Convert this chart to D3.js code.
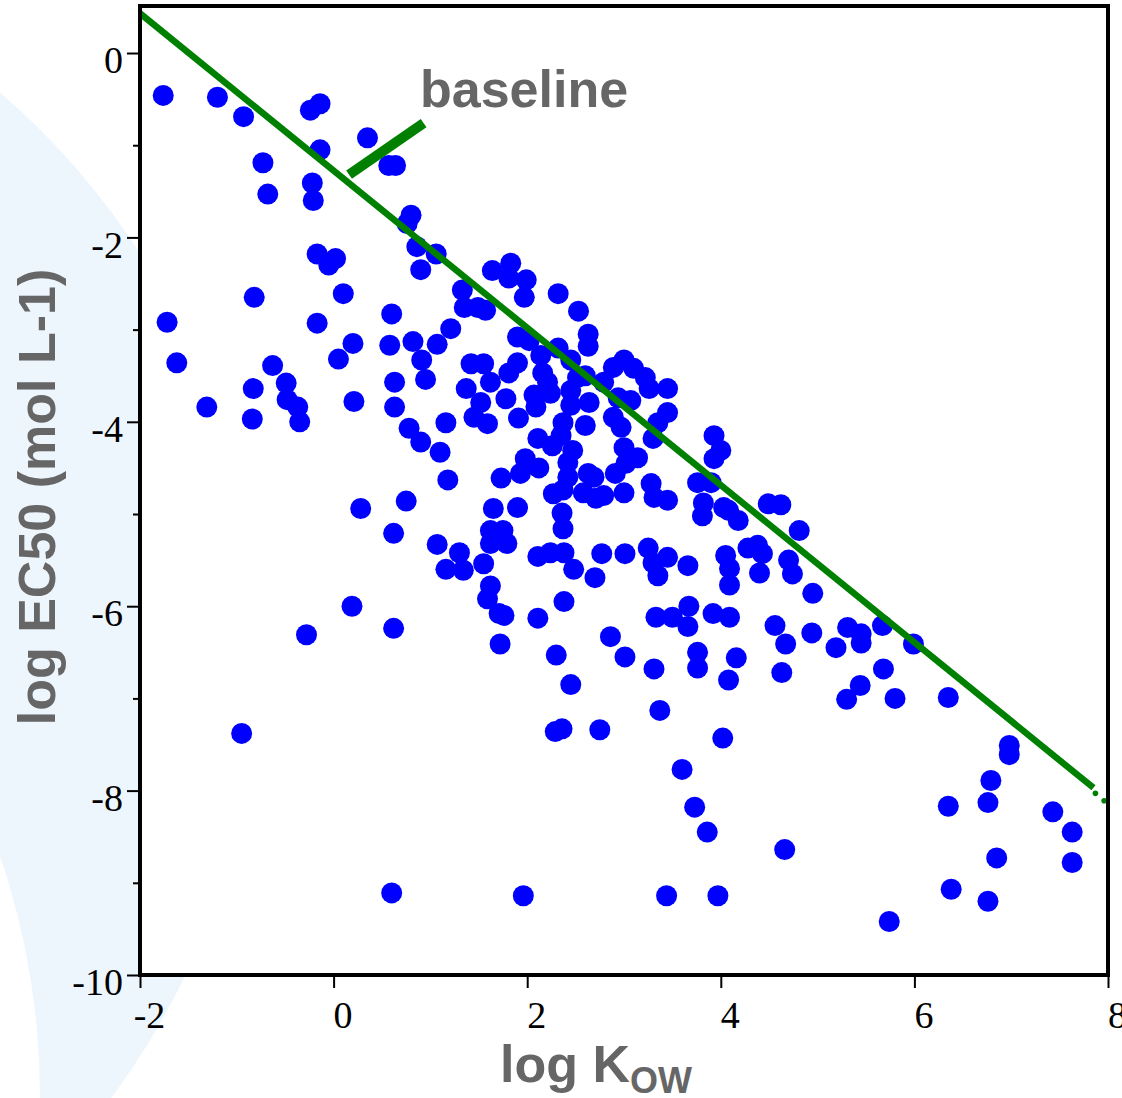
<!DOCTYPE html>
<html lang="en">
<head>
  <meta charset="UTF-8">
  <title>log EC50 vs log Kow</title>
  <script src="https://d3js.org/d3.v7.min.js"></script>
  <style>body{margin:0;background:#fff;}</style>
</head>
<body>
  <svg width="1122" height="1098"></svg>
<script>
// values, point i = (logKow[i], logEC50[i])
var logKow = [
  -1.76,-1.20,-0.93,-0.24,-0.14,-0.14,0.35,0.57,0.64,-0.73,-0.68,-0.22,-0.21,0.80,0.76,0.86,1.06,0.90,-0.17,0.02,-0.05,0.10,-0.82,0.60,-1.72,-0.17,1.33,1.35,1.21,
  -1.62,-1.31,-0.83,-0.84,-0.63,-0.49,-0.48,-0.37,-0.35,0.05,0.20,0.21,0.58,0.82,1.07,0.91,0.95,0.63,0.63,0.78,0.90,1.16,1.10,1.18,1.37,0.28,0.75,0.62,1.07,1.30,1.16,1.34,0.19,-0.28,0.62,
  -0.95,2.45,2.29,2.36,2.75,0.60,1.96,
  1.65,1.90,2.36,2.37,1.62,1.75,1.62,1.79,1.55,2.11,2.24,2.38,2.48,2.70,2.77,3.01,3.25,3.30,3.35,3.45,3.66,1.62,1.59,1.71,1.76,2.38,2.11,1.72,2.86,3.01,2.30,3.31,3.33,3.50,3.67,3.66,3.92,4.09,3.76,3.76,4.16,4.08,4.56,4.67,4.63,3.37,4.02,4.05,4.09,4.09,4.28,4.38,4.43,4.40,4.70,4.74,3.81,4.18,4.08,4.49,4.62,4.81,
  1.64,1.83,1.81,1.99,1.97,2.32,2.53,2.63,2.63,1.49,1.57,1.90,2.02,2.32,2.14,2.45,1.55,1.42,1.90,1.81,2.16,2.21,2.24,2.07,2.09,1.62,1.78,1.52,1.45,1.59,1.91,2.45,2.52,2.60,2.45,2.64,2.60,2.37,2.35,2.11,2.26,2.47,1.98,2.42,2.12,1.93,1.73,2.42,2.37,2.27,
  2.89,3.00,3.10,3.22,3.26,3.45,2.79,2.94,3.07,2.89,2.97,3.45,3.35,3.30,3.00,3.14,3.02,2.63,2.69,2.58,2.71,2.79,2.91,3.00,3.28,3.45,3.31,3.93,4.00,3.93,3.76,3.90,3.82,4.03,
  4.95,4.94,5.31,5.45,5.19,5.45,5.67,5.99,5.68,5.44,5.30,5.80,6.35,
  6.98,6.98,6.79,6.76,6.35,7.43,7.63,7.63,6.85,6.38,6.76,
  3.60,3.73,3.86,3.44,3.97,4.66,5.74
];
var logEC50 = [
  -0.46,-0.48,-0.69,-0.62,-0.55,-1.05,-0.92,-1.22,-1.22,-1.19,-1.53,-1.41,-1.60,-1.76,-1.85,-2.10,-2.18,-2.35,-2.18,-2.23,-2.30,-2.61,-2.65,-2.83,-2.92,-2.93,-2.57,-2.76,-2.99,
  -3.36,-3.84,-3.64,-3.97,-3.39,-3.58,-3.76,-3.84,-4.00,-3.32,-3.15,-3.78,-3.17,-3.13,-3.16,-3.33,-3.54,-3.57,-3.84,-4.07,-4.22,-4.01,-4.33,-4.63,-3.64,-4.94,-4.86,-5.21,-5.33,-5.42,-5.60,-5.61,-6.00,-6.31,-6.24,
  -7.38,-6.85,-7.36,-7.33,-7.34,-9.11,-9.14,
  -4.94,-4.93,-4.99,-5.16,-5.18,-5.18,-5.32,-5.32,-5.54,-5.46,-5.42,-5.42,-5.60,-5.69,-5.43,-5.43,-5.37,-5.53,-5.67,-5.47,-5.56,-5.78,-5.92,-6.08,-6.10,-5.95,-6.13,-6.41,-6.33,-6.55,-6.53,-6.68,-6.12,-6.12,-6.00,-6.22,-6.08,-6.12,-6.50,-6.67,-6.56,-6.80,-6.21,-6.41,-6.72,-7.13,-7.43,-5.45,-5.59,-5.77,-5.37,-5.34,-5.43,-5.64,-5.50,-5.65,-5.02,-5.07,-4.96,-4.89,-4.90,-5.18,
  -2.36,-2.28,-2.44,-2.46,-2.65,-2.61,-2.80,-3.05,-3.18,-2.76,-2.79,-3.08,-3.12,-3.20,-3.28,-3.33,-3.37,-3.37,-3.36,-3.47,-3.47,-3.57,-3.69,-3.71,-3.84,-3.57,-3.75,-3.79,-3.95,-4.02,-3.96,-3.66,-3.52,-3.50,-3.82,-3.79,-4.04,-4.01,-4.15,-4.18,-4.26,-4.31,-4.40,-4.44,-4.50,-4.56,-4.61,-4.60,-4.74,-4.78,
  -3.41,-3.33,-3.42,-3.52,-3.64,-3.64,-3.57,-3.74,-3.77,-3.95,-4.06,-3.90,-4.01,-4.18,-4.28,-4.39,-4.45,-4.56,-4.60,-4.77,-4.83,-4.80,-4.56,-4.77,-4.67,-4.85,-4.82,-4.15,-4.31,-4.40,-4.66,-4.66,-4.88,-4.93,
  -5.86,-6.29,-6.23,-6.30,-6.45,-6.40,-6.21,-6.41,-6.68,-6.86,-7.01,-7.00,-6.99,
  -7.51,-7.61,-7.89,-8.13,-8.17,-8.23,-8.45,-8.78,-8.73,-9.07,-9.20,
  -7.77,-8.18,-8.45,-9.14,-9.14,-8.64,-9.42
];

// baseline (green line) end points
var baselineKow = [-2, 7.85];
var baselineEC50 = [0.43, -7.97];
var baselineTailKow = [7.87, 7.96];
var baselineTailEC50 = [-8.03, -8.11];
// pointer of the "baseline" label
var pointerKow = [0.16, 0.93];
var pointerEC50 = [-1.32, -0.76];

var xTicks = [-2, 0, 2, 4, 6, 8];
var yTicks = [0, -2, -4, -6, -8, -10];
var yMinorTicks = [-1, -3, -5, -7, -9];

var svg = d3.select("svg");
var x = d3.scaleLinear().domain([-2, 8]).range([140, 1108]);
var y = d3.scaleLinear().domain([-10, 0.51]).range([975, 6]);

// pale crescent in the background
function circ(cx, cy, r) {
  return "M" + (cx - r) + "," + cy + " a" + r + "," + r + " 0 1,0 " + (2 * r) + ",0 a" + r + "," + r + " 0 1,0 " + (-2 * r) + ",0 ";
}
svg.append("path")
  .attr("d", circ(-484, 655, 742) + circ(-703, 1097, 743))
  .attr("fill", "#edf5fd")
  .attr("fill-rule", "evenodd");

svg.append("rect")
  .attr("x", 140).attr("y", 6).attr("width", 968).attr("height", 969)
  .attr("fill", "#fff");

// points
var pts = logKow.map(function(k, i){ return {k: k, e: logEC50[i]}; });
svg.append("g").selectAll("circle")
  .data(pts).enter().append("circle")
  .attr("cx", function(d){ return x(d.k); })
  .attr("cy", function(d){ return y(d.e); })
  .attr("r", 10.5)
  .attr("fill", "#0000ff");

// baseline
var line = d3.line()
  .x(function(d){ return x(d[0]); })
  .y(function(d){ return y(d[1]); });
var basePts = baselineKow.map(function(k, i){ return [k, baselineEC50[i]]; });
svg.append("path")
  .datum(basePts)
  .attr("d", line)
  .attr("fill", "none")
  .attr("stroke", "#008000")
  .attr("stroke-width", 6.5);
svg.append("g").selectAll("circle")
  .data(baselineTailKow).enter().append("circle")
  .attr("cx", function(d){ return x(d); })
  .attr("cy", function(d, i){ return y(baselineTailEC50[i]); })
  .attr("r", 2.8)
  .attr("fill", "#008000");

svg.append("path")
  .datum(pointerKow.map(function(k, i){ return [k, pointerEC50[i]]; }))
  .attr("d", line)
  .attr("stroke", "#008000")
  .attr("stroke-width", 10);

svg.append("text")
  .attr("x", 420).attr("y", 107)
  .attr("font-family", "Liberation Sans, Arial, sans-serif")
  .attr("font-weight", "bold")
  .attr("font-size", 52)
  .attr("fill", "#666666")
  .text("baseline");

// axes (plain hyphen for negatives, like the original)
var fmt = function(d){ return String(d); };
var yAxis = svg.append("g")
  .attr("transform", "translate(140,0)")
  .call(d3.axisLeft(y).tickValues(yTicks).tickSize(13).tickPadding(4).tickFormat(fmt));
yAxis.append("g")
  .call(d3.axisLeft(y).tickValues(yMinorTicks).tickSize(7).tickFormat(""));

var xAxis = svg.append("g")
  .attr("transform", "translate(0,975)")
  .call(d3.axisBottom(x).tickValues(xTicks).tickSize(13).tickPadding(13).tickFormat(fmt));

svg.selectAll(".domain").remove();
svg.selectAll(".tick line").attr("stroke", "#000").attr("stroke-width", 2);
svg.selectAll(".tick text")
  .attr("font-family", "Liberation Serif, Times New Roman, serif")
  .attr("font-size", 38)
  .attr("fill", "#000");
yAxis.selectAll(".tick text").attr("dy", "0.52em");
xAxis.selectAll(".tick text").attr("x", 9);

svg.append("rect")
  .attr("x", 140).attr("y", 6).attr("width", 968).attr("height", 969)
  .attr("fill", "none")
  .attr("stroke", "#000")
  .attr("stroke-width", 4);

// axis titles
svg.append("text")
  .attr("transform", "translate(55,497) rotate(-90)")
  .attr("text-anchor", "middle")
  .attr("font-family", "Liberation Sans, Arial, sans-serif")
  .attr("font-weight", "bold")
  .attr("font-size", 52)
  .attr("fill", "#666666")
  .text("log EC50 (mol L-1)");

var xt = svg.append("text")
  .attr("x", 500).attr("y", 1082)
  .attr("font-family", "Liberation Sans, Arial, sans-serif")
  .attr("font-weight", "bold")
  .attr("font-size", 52)
  .attr("fill", "#666666");
xt.append("tspan").text("log K");
xt.append("tspan").attr("font-size", 36).attr("dy", 11).text("OW");
</script>
</body>
</html>
